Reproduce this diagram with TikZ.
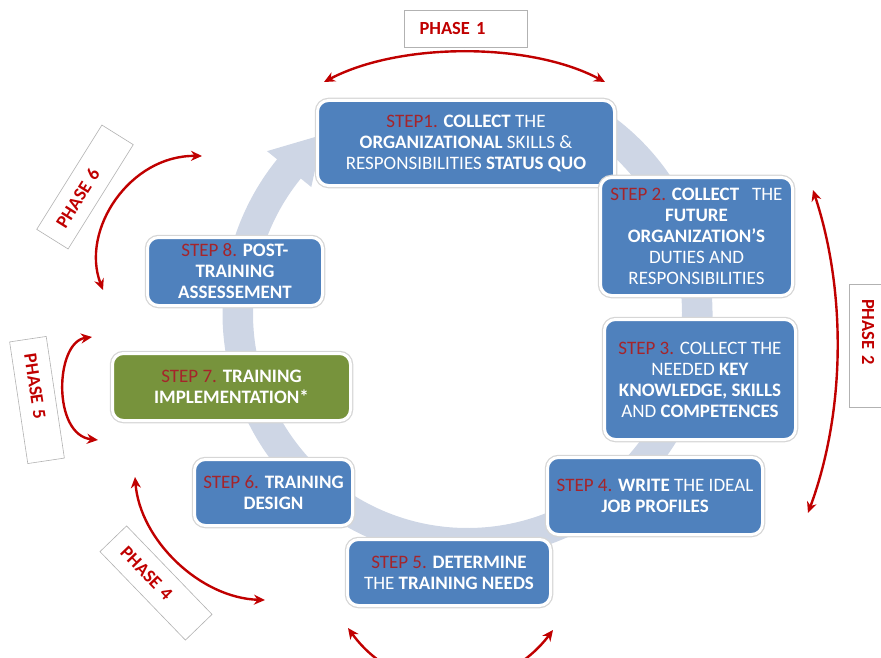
\documentclass[tikz,border=0pt]{standalone}
\usepackage{fontspec}
\setmainfont{Carlito}
\usetikzlibrary{arrows.meta,calc}
\definecolor{stepblue}{RGB}{79,129,189}
\definecolor{stepgreen}{RGB}{119,147,60}
\definecolor{steplbl}{RGB}{165,36,42}
\definecolor{phasered}{RGB}{192,0,0}
\definecolor{cycleband}{RGB}{206,214,229}
\newcommand\stlbl[1]{\textcolor{steplbl}{#1}}

\begin{document}
\begin{tikzpicture}[x=1pt,y=1pt,
  stepbox/.style={rounded corners=11pt, fill=stepblue, draw=white, line width=3pt,
    preaction={draw=black!16, line width=5.5pt}, text=white, align=center,
    font=\fontsize{19}{21}\selectfont, inner sep=0pt},
  phasebox/.style={draw=black!30, line width=0.6pt, fill=white, minimum height=37pt,
    text width=93pt, inner xsep=15pt, inner ysep=0pt, align=left, text=phasered,
    font=\fontsize{18.5}{20}\selectfont\bfseries},
  phasearc/.style={draw=phasered, line width=2.4pt,
    {Stealth[length=11pt,width=10pt,inset=3.5pt]}-{Stealth[length=11pt,width=10pt,inset=3.5pt]}}
]
\useasboundingbox (0,0) rectangle (881,-658);

% circular band with its arrowhead
\coordinate (cc) at (467.5,-313.5);
\fill[cycleband] ($(cc)+(55:245)$) arc[start angle=55,end angle=-219,radius=245]
  -- ($(cc)+(-219:258)$) -- ($(cc)+(-231:230)$) -- ($(cc)+(-219:201)$)
  -- ($(cc)+(-219:214.5)$) arc[start angle=-219,end angle=55,radius=214.5] -- cycle;

% steps
\node[stepbox, minimum width=297pt, minimum height=85pt] (s1) at (466,-143)
  {\stlbl{STEP1.} \textbf{COLLECT} THE\\\textbf{ORGANIZATIONAL} SKILLS \&\\RESPONSIBILITIES \textbf{STATUS QUO}};
\node[stepbox, minimum width=192pt, minimum height=118pt] (s2) at (696.5,-236.5)
  {\stlbl{STEP 2.} \textbf{COLLECT}\ \ \ THE\\\textbf{FUTURE}\\\textbf{ORGANIZATION'S}\\DUTIES AND\\RESPONSIBILITIES};
\node[stepbox, minimum width=191pt, minimum height=120pt] (s3) at (700,-379.5)
  {\stlbl{STEP 3.} COLLECT THE\\NEEDED \textbf{KEY}\\\textbf{KNOWLEDGE, SKILLS}\\AND \textbf{COMPETENCES}};
\node[stepbox, minimum width=215pt, minimum height=77pt] (s4) at (655,-496)
  {\stlbl{STEP 4.} \textbf{WRITE} THE IDEAL\\\textbf{JOB PROFILES}};
\node[stepbox, minimum width=203pt, minimum height=66pt] (s5) at (449,-572.5)
  {\stlbl{STEP 5.} \textbf{DETERMINE}\\THE \textbf{TRAINING NEEDS}};
\node[stepbox, minimum width=158pt, minimum height=66pt] (s6) at (273.5,-492.5)
  {\stlbl{STEP 6.} \textbf{TRAINING}\\\textbf{DESIGN}};
\node[stepbox, fill=stepgreen, minimum width=238pt, minimum height=67pt] (s7) at (231.5,-387)
  {\stlbl{STEP 7.} \textbf{TRAINING}\\\textbf{IMPLEMENTATION*}};
\node[stepbox, minimum width=175pt, minimum height=68pt] (s8) at (235,-271.5)
  {\stlbl{STEP 8.} \textbf{POST-}\\\textbf{TRAINING}\\\textbf{ASSESSEMENT}};

% phase labels
\node[phasebox] (p1) at (466,-28.5) {PHASE 1};
\node[phasebox, rotate=-90] (p2) at (868,-345.5) {PHASE 2};
\node[phasebox, rotate=-46] (p4) at (156,-583) {PHASE 4};
\node[phasebox, rotate=-81.5] (p5) at (37,-400) {PHASE 5};
\node[phasebox, rotate=58] (p6) at (85,-187) {PHASE 6};

% phase spans
\coordinate (a1s) at (324,-82);  \coordinate (a1e) at (605,-82);
\coordinate (a2s) at (813,-190); \coordinate (a2e) at (808,-513);
\coordinate (a3s) at (348,-628); \coordinate (a3e) at (553,-630);
\coordinate (a4s) at (135,-477); \coordinate (a4e) at (265,-600);
\coordinate (a5s) at (92,-337);  \coordinate (a5e) at (98,-440);
\coordinate (a6s) at (202,-156); \coordinate (a6e) at (103,-290);
\draw[phasearc] (a1s) .. controls (400,-42) and (530,-42) .. (a1e);
\draw[phasearc] (a2s) .. controls (846,-290) and (846,-410) .. (a2e);
\draw[phasearc] (a3s) .. controls (400,-700) and (500,-700) .. (a3e);
\draw[phasearc] (a4s) .. controls (140,-540) and (200,-598) .. (a4e);
\draw[phasearc] (a5s) .. controls (55,-342) and (52,-435) .. (a5e);
\draw[phasearc] (a6s) .. controls (130,-155) and (80,-230) .. (a6e);
\end{tikzpicture}
\end{document}
